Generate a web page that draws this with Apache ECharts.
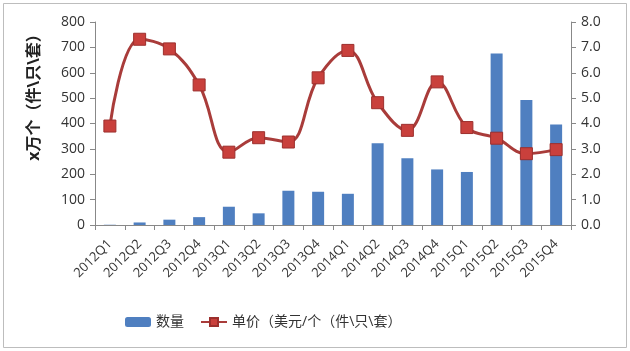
<!DOCTYPE html>
<html>
<head>
<meta charset="utf-8">
<script src="https://cdn.jsdelivr.net/npm/echarts@6/dist/echarts.min.js"></script>
<style>
  html, body { margin: 0; padding: 0; background: #fff; }
  #chart { width: 630px; height: 351px; }
</style>
</head>
<body>
<div id="chart"></div>
<script>
// 季度
const quarters = ['2012Q1', '2012Q2', '2012Q3', '2012Q4', '2013Q1', '2013Q2', '2013Q3', '2013Q4',
  '2014Q1', '2014Q2', '2014Q3', '2014Q4', '2015Q1', '2015Q2', '2015Q3', '2015Q4'];
// 数量 (万个)
const quantity = [1, 10, 21, 31, 72, 46, 135, 131, 123, 322, 263, 219, 209, 676, 493, 396];
// 单价 (美元)
const unitPrice = [3.9, 7.32, 6.94, 5.52, 2.87, 3.44, 3.27, 5.8, 6.88, 4.82, 3.73, 5.64, 3.84, 3.42, 2.81, 2.97];

const font = '"Open Sans", "Noto Sans CJK SC", sans-serif';
const myChart = echarts.init(document.getElementById('chart'));

const option = {
  animation: false,
  backgroundColor: '#fff',
  grid: { left: 95, right: 59, top: 22, bottom: 126 },
  graphic: [{
    type: 'rect',
    shape: { x: 3.5, y: 3.5, width: 623, height: 344 },
    style: { fill: 'none', stroke: '#bdbdbd', lineWidth: 1 },
    silent: true,
  }],
  legend: {
    bottom: 17,
    left: 120,
    itemWidth: 26,
    itemHeight: 10,
    itemGap: 16,
    textStyle: { fontFamily: font, fontSize: 14, color: '#333' },
    data: ['数量', '单价（美元/个（件\\只\\套）'],
  },
  xAxis: {
    type: 'category',
    data: quarters,
    axisLine: { lineStyle: { color: '#888' } },
    axisTick: { show: true, length: 5, lineStyle: { color: '#888' } },
    axisLabel: { rotate: 45, fontFamily: font, fontSize: 13, color: '#333', margin: 17, interval: 0 },
  },
  yAxis: [
    {
      type: 'value',
      min: 0,
      max: 800,
      interval: 100,
      name: 'x万个（件\\只\\套）',
      nameLocation: 'middle',
      nameRotate: 90,
      nameGap: 53,
      nameTextStyle: { fontFamily: font, fontSize: 16, color: '#222', fontWeight: 'bold', padding: [0, 0, 0, 60] },
      axisLine: { show: true, lineStyle: { color: '#888' } },
      axisTick: { show: true, length: 5, lineStyle: { color: '#888' } },
      splitLine: { show: false },
      axisLabel: { fontFamily: font, fontSize: 14, color: '#333', margin: 10 },
    },
    {
      type: 'value',
      min: 0,
      max: 8,
      interval: 1,
      axisLine: { show: true, lineStyle: { color: '#888' } },
      axisTick: { show: true, length: 5, lineStyle: { color: '#888' } },
      splitLine: { show: false },
      axisLabel: {
        fontFamily: font, fontSize: 14, color: '#333', margin: 10,
        formatter: (v) => v.toFixed(1),
      },
    },
  ],
  series: [
    {
      name: '数量',
      type: 'bar',
      yAxisIndex: 0,
      data: quantity,
      barWidth: 12,
      itemStyle: { color: '#4f7fc0' },
    },
    {
      name: '单价（美元/个（件\\只\\套）',
      type: 'line',
      yAxisIndex: 1,
      data: unitPrice,
      smooth: 0.4,
      symbol: 'rect',
      symbolSize: 12,
      lineStyle: { color: '#a93c3a', width: 3 },
      itemStyle: { color: '#c9403c', borderColor: '#9c2f2d', borderWidth: 1 },
    },
  ],
};

myChart.setOption(option);
</script>
</body>
</html>
